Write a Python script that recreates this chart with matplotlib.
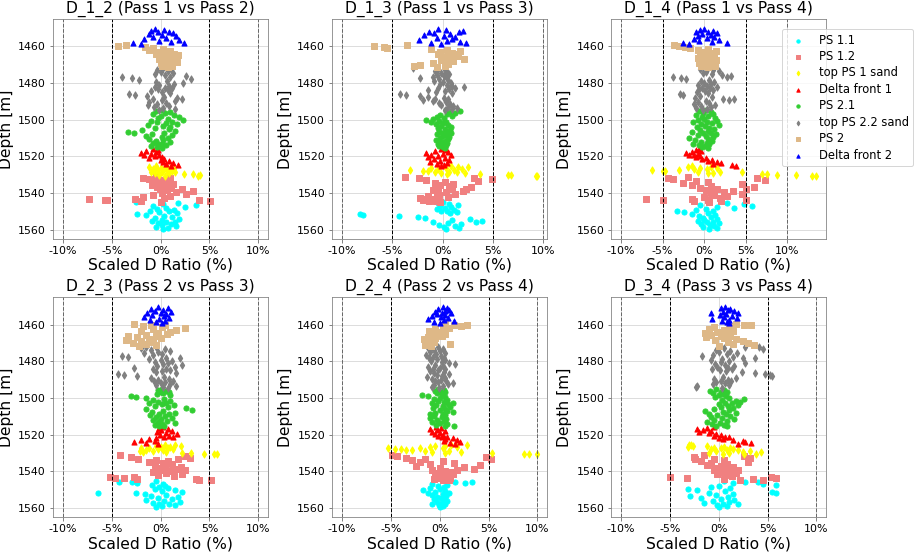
#!/usr/bin/env python3
# %%
import matplotlib
matplotlib.use('Agg')
import matplotlib.pyplot as plt
from matplotlib.ticker import FuncFormatter


# %%
# zone depths [m], shallow to deep
depth_df2 = [1450.5, 1451.0, 1451.5, 1452.0, 1452.5, 1453.0, 1453.5, 1454.0, 1454.5, 1455.0,
             1455.5, 1456.0, 1456.5, 1457.0, 1457.5, 1458.0, 1458.5, 1459.0]
depth_ps2 = [1459.5, 1460.0, 1460.5, 1461.0, 1461.5, 1462.0, 1462.5, 1463.0, 1463.5, 1464.0,
             1464.5, 1465.0, 1465.5, 1466.0, 1466.5, 1467.0, 1467.5, 1468.0, 1468.5, 1469.0,
             1469.5, 1470.0, 1470.5, 1471.0, 1471.5]
depth_ps22 = [1472.0, 1472.5, 1473.0, 1473.5, 1474.0, 1474.5, 1475.0, 1475.5, 1476.0, 1476.5,
              1477.0, 1477.5, 1478.0, 1478.5, 1479.0, 1479.5, 1480.0, 1480.5, 1481.0, 1481.5,
              1482.0, 1482.5, 1483.0, 1483.5, 1484.0, 1484.5, 1485.0, 1485.5, 1486.0, 1486.5,
              1487.0, 1487.5, 1488.0, 1488.5, 1489.0, 1489.5, 1490.0, 1490.5, 1491.0, 1491.5,
              1492.0, 1492.5, 1493.0, 1493.5, 1494.0, 1494.5]
depth_ps21 = [1495.0, 1495.5, 1496.0, 1496.5, 1497.0, 1497.5, 1498.0, 1498.5, 1499.0, 1499.5,
              1500.0, 1500.5, 1501.0, 1501.5, 1502.0, 1502.5, 1503.0, 1503.5, 1504.0, 1504.5,
              1505.0, 1505.5, 1506.0, 1506.5, 1507.0, 1507.5, 1508.0, 1508.5, 1509.0, 1509.5,
              1510.0, 1510.5, 1511.0, 1511.5, 1512.0, 1512.5, 1513.0, 1513.5, 1514.0, 1514.5,
              1515.0, 1515.5]
depth_df1 = [1516.0, 1516.5, 1517.0, 1517.5, 1518.0, 1518.5, 1519.0, 1519.5, 1520.0, 1520.5,
             1521.0, 1521.5, 1522.0, 1522.5, 1523.0, 1523.5, 1524.0, 1524.5, 1525.0]
depth_sand1 = [1525.5, 1525.75, 1526.0, 1526.25, 1526.5, 1526.75, 1527.0, 1527.25, 1527.5, 1527.75,
               1528.0, 1528.25, 1528.5, 1528.75, 1529.0, 1529.25, 1529.5, 1529.75, 1530.0, 1530.25,
               1530.5, 1530.75]
depth_ps12 = [1531.0, 1531.5, 1532.0, 1532.5, 1533.0, 1533.5, 1534.0, 1534.5, 1535.0, 1535.5,
              1536.0, 1536.5, 1537.0, 1537.5, 1538.0, 1538.5, 1539.0, 1539.5, 1540.0, 1540.5,
              1541.0, 1541.5, 1542.0, 1542.5, 1543.0, 1543.25, 1543.5, 1543.75, 1544.0, 1544.25,
              1544.5, 1544.75]
depth_ps11 = [1545.0, 1545.5, 1546.0, 1546.5, 1547.0, 1547.5, 1548.0, 1548.5, 1549.0, 1549.5,
              1550.0, 1550.5, 1551.0, 1551.5, 1552.0, 1552.5, 1553.0, 1553.5, 1554.0, 1554.5,
              1555.0, 1555.5, 1556.0, 1556.5, 1557.0, 1557.5, 1558.0, 1558.5, 1559.0, 1559.5]

# zone name, depths, colour, marker (legend order)
zones = ['PS 1.1', 'PS 1.2', 'top PS 1 sand', 'Delta front 1',
         'PS 2.1', 'top PS 2.2 sand', 'PS 2', 'Delta front 2']
zone_depths = [depth_ps11, depth_ps12, depth_sand1, depth_df1,
               depth_ps21, depth_ps22, depth_ps2, depth_df2]
colors = ['cyan', 'lightcoral', 'yellow', 'red', 'limegreen', 'grey', 'burlywood', 'blue']
markers = ['o', 's', 'd', '^', 'o', 'd', 's', '^']

# %%
# scaled D ratio (%) per zone for each pass pair
d_1_2 = {
    'Delta front 2': [-0.6, 0.4, -1.0, 0.9, -0.3, 1.3, -1.2, 0.2, 1.6, -0.8,
                      0.6, -1.7, 1.9, -0.2, 1.1, -2.8, 2.4, -2.0],
    'PS 2': [-3.5, -4.3, -1.6, -0.8, 0.3, -1.2, 1.0, -0.3, 0.6, 1.4,
             -0.5, 1.8, 0.2, 0.9, 1.6, -0.2, 1.2, 0.4, 1.7, 0.0,
             1.0, 0.5, 1.2, 0.2, 0.8],
    'top PS 2.2 sand': [0.3, 1.1, -0.4, 0.8, 0.0, 1.3, -0.6, 0.5, 2.6, 1.0,
                        -3.9, -2.9, 3.1, -2.2, 0.7, -0.5, 2.3, 1.4, -0.2, 0.9,
                        -0.6, 0.5, 1.2, -0.3, 0.8, -1.0, 0.2, 1.0, -3.2, -2.6,
                        -1.4, 0.4, 1.7, -0.8, 2.2, 0.1, 1.5, -1.2, 0.6, -0.4,
                        -1.3, 0.9, -0.7, 0.3, 1.5, -0.2],
    'PS 2.1': [0.2, -0.5, 1.0, 0.5, -0.8, 1.4, 0.0, 1.9, -0.3, 0.8,
               2.3, -1.0, 1.2, -0.4, 0.6, 1.7, -1.3, 0.3, 1.0, -0.6,
               0.9, -1.9, 1.5, -3.3, -2.7, 0.4, -0.9, 1.2, -1.5, 0.1,
               0.8, -1.2, 0.3, -0.5, 1.0, -0.8, 0.2, -0.3, 0.6, -1.0,
               -0.4, 0.1],
    'Delta front 1': [-0.8, -0.3, -1.5, -0.5, -2.0, -1.0, -0.2, -1.7, -0.6, 0.1,
                      -1.2, 0.4, 0.0, 0.9, 0.3, 1.3, 0.6, 1.8, 1.1],
    'top PS 1 sand': [-0.5, 0.6, -1.2, 1.0, 0.0, 1.4, -0.8, 0.3, -0.3, 1.2,
                      0.7, -1.0, 0.2, 1.5, -0.6, 0.9, 2.4, 3.3, -0.2, 4.0,
                      3.8, 0.5],
    'PS 1.2': [-0.5, 1.0, -1.8, -1.2, 0.3, -0.6, 0.8, -0.2, 1.3, -0.9,
               0.5, -0.4, 1.1, 2.2, -0.1, 0.7, 3.3, 1.6, 0.2, 2.6,
               -0.8, 1.0, -1.8, 0.4, -7.3, -2.6, -5.7, 3.9, -5.5, 5.1,
               -2.0, 0.0],
    'PS 1.1': [-2.5, 1.8, 0.3, 3.6, -0.8, 2.5, 0.6, -0.4, 1.4, -1.1,
               0.9, -0.2, 1.7, -2.4, -1.5, 0.4, 1.2, -0.6, 1.9, 0.1,
               -0.9, 1.5, 0.6, -0.3, 1.1, 0.2, 1.6, -0.5, 0.8, 0.3],
}

d_1_3 = {
    'Delta front 2': [-0.5, 0.3, 2.0, -1.4, 1.6, -0.9, 0.7, -1.9, 0.1, 1.2,
                      -0.6, 0.9, -2.3, 0.4, 1.7, -1.2, 2.3, -0.2],
    'PS 2': [-3.5, -6.8, -5.8, -5.5, -1.2, 0.4, 1.7, -0.3, 0.9, 1.3,
             -0.5, 0.6, 1.5, 0.0, 0.8, 2.1, -0.2, 1.0, 0.3, -1.0,
             0.5, -2.2, -2.8, 0.2, -0.6],
    'top PS 2.2 sand': [-2.9, -0.5, 0.2, -0.8, 0.4, -0.2, 0.6, -0.6, 0.1, -1.0,
                        0.3, -2.2, -0.4, 0.5, -0.9, 0.0, 0.8, -0.3, 0.4, 0.9,
                        2.1, 1.2, -0.5, 0.6, -1.5, 0.2, -0.7, 0.9, -4.2, -3.6,
                        -2.2, -1.5, 0.1, -0.8, 0.5, -2.0, -1.0, 0.3, -0.4, 0.7,
                        -0.2, 1.0, 0.5, 1.4, 0.9, 0.2],
    'PS 2.1': [0.3, 1.7, 0.8, 1.2, 0.4, -0.3, 0.9, -0.6, 0.1, -1.0,
               -1.7, -0.4, 0.3, -1.2, 0.0, -0.7, 0.5, -0.2, 0.8, -0.5,
               0.2, 0.7, -0.4, 0.4, -0.1, 0.8, -0.6, 0.3, 0.0, 0.6,
               -0.3, 0.5, -0.7, 0.2, -0.2, 0.4, -0.5, 0.1, 0.3, -0.4,
               0.0, 0.2],
    'Delta front 1': [-0.2, 0.3, -0.8, 0.5, -1.7, 0.0, -1.2, 0.8, -0.5, -1.5,
                      0.2, -0.9, 0.6, -0.3, -1.3, 0.4, -0.6, 0.1, -0.2],
    'top PS 1 sand': [0.8, 1.5, 2.5, -1.2, 0.3, 1.9, -0.5, 1.1, -3.2, -2.0,
                      -1.5, 0.6, -0.8, 1.4, -0.2, 2.2, 0.4, 3.7, 6.5, 6.8,
                      9.3, 9.4],
    'PS 1.2': [-3.7, 3.1, -2.3, 4.9, -1.7, 3.5, 0.2, -0.8, 1.0, -0.3,
               0.6, 2.8, -0.5, 2.3, 0.9, -1.0, 2.0, 0.3, -0.6, 1.2,
               -0.4, -1.5, 0.5, -2.2, -0.9, -1.8, -0.5, -1.2, -2.0, -0.7,
               -1.4, -0.3],
    'PS 1.1': [0.0, -0.5, 0.6, 1.5, -0.3, 0.8, 0.2, -0.6, 1.1, 0.4,
               -0.2, 1.4, 0.7, -8.2, -7.9, -4.3, -2.4, -1.8, 2.7, 0.9,
               3.9, -1.0, 3.3, 0.5, 1.8, -0.4, 1.2, 0.1, 1.6, 0.3],
}

d_1_4 = {
    'Delta front 2': [0.0, -0.5, 1.0, -1.0, 0.5, 1.5, -0.3, 0.8, -0.8, 1.2,
                      0.3, -1.2, 1.8, -0.6, 0.9, -2.6, 2.7, -1.8],
    'PS 2': [-3.6, -3.0, -2.3, -1.7, 0.5, -0.8, 1.4, 0.0, 0.9, -0.5,
             1.2, 0.3, -0.3, 1.0, -0.7, 0.6, 1.4, -0.2, 0.8, -0.6,
             1.1, 0.2, -0.4, 1.3, 0.4],
    'top PS 2.2 sand': [0.4, -0.5, 1.0, 1.8, 0.2, -0.2, 0.9, 2.2, 3.2, 2.7,
                        -3.8, -2.8, -2.2, 0.6, -0.4, 1.2, 0.0, 0.8, -0.8, 0.3,
                        1.6, -0.3, 0.7, -0.6, 1.1, 0.1, -0.9, 0.5, -2.9, -2.5,
                        -0.5, 0.9, -1.1, 2.3, 3.6, 3.0, 0.2, -0.7, 0.6, -1.2,
                        1.3, -0.4, 0.8, -1.0, 0.3, -0.1],
    'PS 2.1': [0.2, -0.6, 0.8, -0.2, 1.0, -1.0, 0.5, -0.3, 1.3, 0.0,
               -0.8, 1.5, 0.3, -1.3, 0.9, -0.4, 1.8, 0.1, -0.9, 0.6,
               1.2, -0.5, 0.4, -1.5, 0.8, -0.2, 1.4, -0.7, 0.2, 1.0,
               -1.8, 0.5, -1.1, 0.9, -0.4, 0.3, -1.4, 0.6, -0.6, 0.1,
               -0.3, 0.4],
    'Delta front 1': [-0.6, -1.0, -0.4, -1.5, -2.2, -0.8, -1.8, -1.2, -0.5, -1.0,
                      0.2, -0.3, 0.9, 0.5, 1.5, 2.0, 1.1, 3.4, 3.8],
    'top PS 1 sand': [-1.5, 0.8, -2.0, 1.5, -0.5, 0.3, -1.2, -3.0, -6.3, -5.0,
                      -4.7, 4.5, 1.9, -0.8, 0.5, 1.1, 6.9, 7.5, 8.7, 11.0,
                      13.0, 13.5],
    'PS 1.2': [-2.0, -4.3, 6.3, -3.8, 7.3, -1.0, 0.5, -2.5, 4.5, -1.5,
               0.8, 6.0, -0.5, 5.0, 1.5, 0.2, 3.5, 2.4, 0.8, 4.6,
               1.2, 2.8, 0.0, 1.9, -1.5, -7.0, 0.5, -5.0, 5.0, 2.0,
               -1.2, 0.6],
    'PS 1.1': [0.5, 2.7, 4.8, -0.5, 5.7, 1.5, 3.6, 0.2, -1.0, 1.0,
               -3.3, -2.4, 0.4, -1.5, 1.3, -0.6, 0.8, -0.2, 1.6, 0.0,
               -0.8, 1.0, 0.3, 1.8, -0.4, 0.7, 1.2, -0.1, 1.5, 0.6],
}

d_2_3 = {
    'Delta front 2': [-0.3, 0.8, -1.0, 0.3, -0.6, 1.1, -1.4, 0.0, 0.6, -0.9,
                      0.4, -1.7, 0.9, -0.2, -1.1, 0.5, -0.5, 0.2],
    'PS 2': [-2.7, -1.0, 0.5, -1.8, 0.2, 2.5, -0.8, 1.6, -2.0, 1.0,
             -0.3, 0.7, -1.5, -3.3, -0.5, -2.4, 0.0, -1.2, -3.5, -2.0,
             -0.8, -2.8, -1.5, -0.5, -2.2],
    'top PS 2.2 sand': [-1.5, -0.5, -2.0, 0.5, -1.0, 1.0, -0.3, -1.7, 0.2, -0.8,
                        -3.9, -3.3, 0.6, 2.0, -1.2, 0.0, 1.2, -0.6, 0.8, 0.3,
                        2.2, -0.4, 1.5, -2.7, 0.6, -0.8, 1.0, 0.1, -0.5, 1.6,
                        -4.3, -3.7, -2.4, 0.4, -1.0, 0.9, -0.3, 1.3, -0.7, 0.5,
                        0.0, 1.0, -0.5, 1.6, 0.3, 0.8],
    'PS 2.1': [0.2, -0.3, 0.6, 0.0, 0.9, 0.3, -0.4, 1.0, -3.0, -2.5,
               -1.5, 0.4, -0.8, 1.0, -0.3, 0.6, -1.2, 0.2, 1.4, -0.6,
               0.8, 2.6, -1.5, 3.2, 0.3, -0.9, 1.5, -0.2, 0.9, -1.1,
               0.5, -0.5, 1.2, 0.0, -0.8, 0.7, -0.3, 1.5, 0.2, -0.6,
               0.4, -0.2],
    'Delta front 1': [0.3, -0.2, 0.8, 0.0, 1.2, -0.4, 0.6, 1.7, -0.1, 0.9,
                      0.4, 1.3, -0.5, -1.2, -2.0, -0.6, -2.7, -1.5, -0.3],
    'top PS 1 sand': [0.5, 1.5, -0.5, 2.1, 0.0, 1.0, -1.2, 0.8, -2.0, -0.3,
                      1.3, -1.5, 0.3, -2.1, -0.8, 0.6, -1.8, 2.2, 3.1, 4.4,
                      5.5, 5.8],
    'PS 1.2': [-4.1, 2.5, -3.0, 3.0, -2.3, 1.8, -0.5, 0.8, -1.2, 0.3,
               1.2, -0.6, 0.5, 2.1, -0.2, 1.6, 2.5, 0.0, 1.0, -0.8,
               0.6, 2.2, -0.3, 1.4, -5.2, -2.7, -4.7, -3.7, 3.6, -2.4,
               3.9, 5.2],
    'PS 1.1': [-0.5, -4.2, -2.9, -2.4, 0.3, -0.9, 0.5, -0.2, 0.8, -0.6,
               1.5, 0.2, 2.2, -6.4, -2.5, -1.6, 0.6, -1.0, 1.8, -0.3,
               1.2, -1.5, 0.4, 2.0, -0.8, 0.9, -0.2, 1.5, 0.1, -0.5],
}

d_2_4 = {
    'Delta front 2': [0.3, 0.8, -0.2, 1.0, 0.5, -0.5, 0.2, 1.2, -0.3, 0.6,
                      -0.8, 0.1, 0.9, -1.2, 0.4, 1.5, -0.6, 0.0],
    'PS 2': [0.5, 2.8, 1.5, 2.2, 0.3, 1.0, -0.5, 0.4, -1.1, 0.0,
             -0.7, 0.5, -0.3, -0.9, 0.2, -1.2, -0.5, -1.6, -0.8, -1.4,
             -0.6, -1.1, 1.1, -1.5, -0.9],
    'top PS 2.2 sand': [-0.8, -0.2, -1.2, 0.3, -0.6, 0.0, -1.0, 0.5, -0.4, -1.4,
                        0.1, -0.7, 0.4, -1.1, -0.3, 0.6, -0.9, 0.2, 1.0, 1.6,
                        -0.5, 0.3, -1.2, 0.0, -0.7, 0.5, -0.2, -1.0, 0.4, -0.6,
                        1.0, -0.3, 0.2, -1.3, 0.6, -0.8, 0.1, -0.5, 0.7, -0.2,
                        1.4, 0.9, -0.6, 0.3, -0.8, -0.1],
    'PS 2.1': [-0.2, 0.4, -0.5, 0.1, 0.5, -0.3, 0.2, -1.8, -1.2, 0.6,
               0.0, -0.6, 0.8, -0.2, 0.4, 1.4, -0.8, 0.9, -0.4, 0.3,
               1.1, -0.7, 0.5, 0.0, 0.8, 1.4, -0.5, 0.3, -1.0, 0.6,
               -0.6, 0.2, -1.0, 0.7, -0.3, 0.4, -0.8, 0.0, 0.8, -0.4,
               1.5, 0.6],
    'Delta front 1': [-0.4, 0.1, -1.0, -0.3, 0.5, -0.8, 0.0, -0.5, 0.3, -0.2,
                      0.8, 0.2, 1.4, 0.6, 1.8, 0.4, 2.1, 1.1, 1.6],
    'top PS 1 sand': [1.2, 2.8, 0.5, -0.5, 1.8, -1.0, 0.3, -2.0, -5.3, -4.6,
                      -4.0, -3.4, -2.8, 1.0, -1.5, 2.2, -0.8, 0.6, 5.4, 8.6,
                      9.1, 10.0],
    'PS 1.2': [-4.9, -4.4, 4.7, -3.4, 5.3, -1.5, -2.8, 0.3, -2.0, 1.5,
               -1.0, 4.1, -2.4, 2.5, 0.0, 3.5, -0.8, 1.8, 0.5, 1.2,
               -0.3, 1.4, 0.2, -0.5, 0.8, 0.0, 1.1, -0.2, 0.5, -0.6,
               0.3, 1.0],
    'PS 1.1': [0.5, 3.3, 1.6, 2.6, -0.8, 0.8, -0.2, 0.4, -1.0, 0.0,
               -1.7, 0.6, -0.5, 1.0, -1.2, 0.3, -0.8, 0.7, -0.3, 0.1,
               -0.6, 0.4, 0.8, -0.3, 0.2, -0.8, 0.5, -0.1, 0.3, 0.0],
}

d_3_4 = {
    'Delta front 2': [0.6, 0.2, 1.2, 0.9, 1.6, 0.4, -0.8, 2.0, 0.7, 0.1,
                      1.4, 0.5, 1.9, -0.7, 1.0, 0.3, 0.8, 1.1],
    'PS 2': [1.8, 3.3, 2.6, 1.3, -0.5, 1.0, -1.0, 0.5, 1.5, -0.2,
             -1.4, 0.8, -0.8, 0.2, 1.2, -1.3, 0.5, 1.8, -0.4, 2.5,
             0.9, 3.0, 1.5, 3.6, 0.0],
    'top PS 2.2 sand': [2.7, 4.1, 0.5, 4.5, -0.3, 1.2, 0.0, 1.9, 0.8, -0.6,
                        -1.7, 1.5, 2.5, 3.7, 0.3, -0.8, 1.0, 0.2, 2.7, -0.4,
                        0.6, 1.6, -0.2, 0.9, -0.7, 1.4, 0.1, 0.7, 2.4, 3.7,
                        4.7, 5.2, 5.5, 0.4, 1.8, -0.5, 0.9, 0.2, 1.3, -0.3,
                        0.6, -0.6, 1.0, -2.2, -2.3, 0.3],
    'PS 2.1': [-0.3, 0.5, -0.9, 0.2, 0.8, -0.6, 0.4, 0.0, 0.7, -0.4,
               1.0, 2.6, 0.3, 1.8, 2.2, 0.6, 1.4, 0.0, 2.0, 0.9,
               0.2, 1.5, -0.5, 1.0, -1.4, 0.4, 1.8, -1.0, 0.7, -0.2,
               1.2, -0.8, 0.3, 1.6, -0.5, 0.8, -1.2, 0.1, -0.7, 0.5,
               -0.3, 0.8],
    'Delta front 1': [-0.5, -1.2, -2.2, -1.6, -0.8, -2.0, -1.0, -0.3, 0.2, -0.5,
                      0.6, 1.0, 0.0, 0.4, 1.5, 2.5, 2.7, 3.3, 2.0],
    'top PS 1 sand': [-2.8, -3.0, -2.6, -1.2, 0.5, -3.1, 1.2, -0.5, 0.2, 1.5,
                      -0.8, 2.0, 0.8, 3.2, -0.3, 2.5, 4.3, 1.0, -1.0, 3.8,
                      0.4, 2.6],
    'PS 1.2': [-1.5, 2.6, -2.5, 3.2, -0.5, -2.4, 0.5, -1.8, 3.0, -0.8,
               0.8, -1.2, 0.2, 1.5, -0.3, 0.9, 2.0, -0.5, 1.2, 0.4,
               1.8, -0.2, 0.6, 1.4, -5.0, 5.3, -3.2, 5.9, 0.5, 3.5,
               4.5, 2.2],
    'PS 1.1': [0.5, 2.7, 4.0, 1.5, 4.5, 5.9, 0.0, -0.8, 1.2, -3.1,
               -2.2, 0.6, 5.5, 5.9, -1.0, 1.5, -0.3, -2.9, 0.9, -1.8,
               0.2, 1.6, -0.6, 1.0, -1.5, 0.4, 2.0, -0.2, 0.8, 0.0],
}

panels = [d_1_2, d_1_3, d_1_4, d_2_3, d_2_4, d_3_4]
titles = ['D_1_2 (Pass 1 vs Pass 2)', 'D_1_3 (Pass 1 vs Pass 3)', 'D_1_4 (Pass 1 vs Pass 4)',
          'D_2_3 (Pass 2 vs Pass 3)', 'D_2_4 (Pass 2 vs Pass 4)', 'D_3_4 (Pass 3 vs Pass 4)']
xticks = [-10, -5, 0, 5, 10]


# %%
fig, axes = plt.subplots(2, 3, figsize=(914 / 72, 552 / 72), dpi=72)
fig.subplots_adjust(left=0.058, right=0.904, bottom=0.063, top=0.966, wspace=0.298, hspace=0.264)

for ax, data, title in zip(axes.flat, panels, titles):
    for name, depth, color, marker in zip(zones, zone_depths, colors, markers):
        ax.scatter(data[name], depth, c=color, marker=marker, s=26, label=name)
    for x in [-10, 10]:
        ax.axvline(x, color='dimgray', linestyle='--', linewidth=1)
    for x in [-5, 5]:
        ax.axvline(x, color='black', linestyle='--', linewidth=1)
    ax.invert_yaxis()
    ax.set_xticks(xticks)
    ax.xaxis.set_major_formatter(FuncFormatter(lambda x, p: '{:.0f}%'.format(x)))
    ax.tick_params(labelsize=11, color='0.4')
    ax.grid(True, color='#d5d5d5', linewidth=0.8)
    ax.set_axisbelow(True)
    for s in ax.spines.values():
        s.set_color('0.5')
    ax.set_title(title, fontsize=15.5)
    ax.set_xlabel('Scaled D Ratio (%)', fontsize=15.5, labelpad=2)
    ax.set_ylabel('Depth [m]', fontsize=15.5)

handles, labels = axes[0, 0].get_legend_handles_labels()
fig.legend(handles, labels, loc='upper left', bbox_to_anchor=(0.8556, 0.9475),
           fontsize=11.5, markerscale=0.65, labelspacing=0.3, borderaxespad=0)

plt.savefig('out.png', dpi=72)
plt.close()
